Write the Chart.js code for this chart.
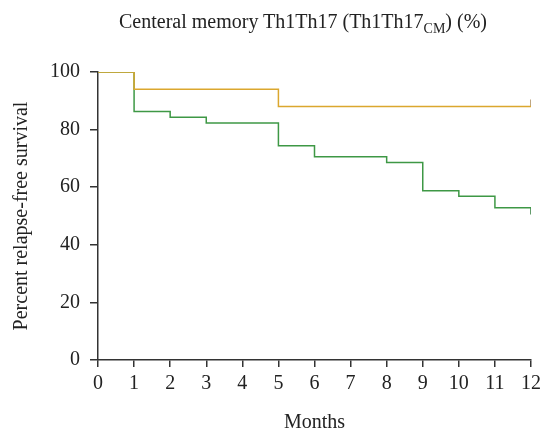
<!DOCTYPE html>
<html>
<head>
<meta charset="utf-8">
<script src="https://cdn.jsdelivr.net/npm/chart.js@4"></script>
<style>
  body { margin: 0; background: #fff; }
  #wrap { position: relative; width: 542px; height: 431px; }
  #title {
    position: absolute; left: 76px; width: 454px; top: 10px;
    text-align: center; font-family: "Liberation Serif", serif; font-size: 20px; color: #222;
  }
  #title sub { font-size: 14px; }
</style>
</head>
<body>
<div id="wrap">
  <div id="title">Centeral memory Th1Th17 (Th1Th17<sub>CM</sub>) (%)</div>
  <canvas id="myChart" width="542" height="431"></canvas>
</div>
<script>
// event times and survival (%)
const lowMonths = [0, 1, 5, 12];
const lowSurv = [100, 94, 88, 88];
const highMonths = [0, 1, 2, 3, 5, 6, 8, 9, 10, 11, 12];
const highSurv = [100, 86.3, 84.3, 82.3, 74.4, 70.6, 68.6, 58.8, 56.9, 52.9, 52.9];
// censored at end of follow-up
const censorMonths = [12, 12];
const censorSurv = [89.2, 51.7];

const lowColor = "#dba72e";
const highColor = "#3e9845";
const axisColor = "#333";
const font = { family: "Liberation Serif", size: 20 };

function pts(xs, ys) {
  return xs.map((x, i) => ({ x: x, y: ys[i] }));
}

new Chart(document.getElementById("myChart").getContext("2d"), {
  type: 'line',
  data: {
    datasets: [
      {
        label: "low",
        data: pts(lowMonths, lowSurv),
        borderColor: lowColor,
        borderWidth: 1.5,
        stepped: 'before',
        pointRadius: 0,
        fill: false
      },
      {
        label: "high",
        data: pts(highMonths, highSurv),
        borderColor: highColor,
        borderWidth: 1.5,
        stepped: 'before',
        pointRadius: 0,
        fill: false
      },
      {
        label: "censored",
        data: pts(censorMonths, censorSurv),
        showLine: false,
        pointStyle: 'line',
        rotation: 90,
        pointRadius: 3.5,
        pointBorderWidth: 1.5,
        pointBorderColor: ["#a8885a", "#2f7a3a"]
      }
    ]
  },
  options: {
    responsive: false,
    animation: false,
    layout: { padding: { top: 72, right: 11, left: 8, bottom: 0 } },
    plugins: {
      legend: { display: false },
      title: { display: false },
      tooltip: { enabled: false }
    },
    scales: {
      x: {
        type: 'linear',
        min: 0, max: 12,
        afterFit: (scale) => { scale.paddingRight = 0; },
        grid: { drawOnChartArea: false, color: axisColor, tickLength: 7, lineWidth: 1.5 },
        border: { color: axisColor, width: 1.5 },
        ticks: { stepSize: 1, color: "#222", font: font, padding: 5, maxRotation: 0 },
        title: {
          display: true, text: "Months", color: "#222",
          font: { family: "Liberation Serif", size: 20, lineHeight: 0.8 },
          padding: { top: 14, bottom: 0 }
        }
      },
      y: {
        min: 0, max: 100,
        grid: { drawOnChartArea: false, color: axisColor, tickLength: 8, lineWidth: 1.5 },
        border: { color: axisColor, width: 1.5 },
        ticks: { stepSize: 20, color: "#222", font: font, padding: 10 },
        title: { display: true, text: "Percent relapse-free survival", color: "#222", font: font, padding: { top: 2, bottom: 6 } }
      }
    }
  }
});
</script>
</body>
</html>
